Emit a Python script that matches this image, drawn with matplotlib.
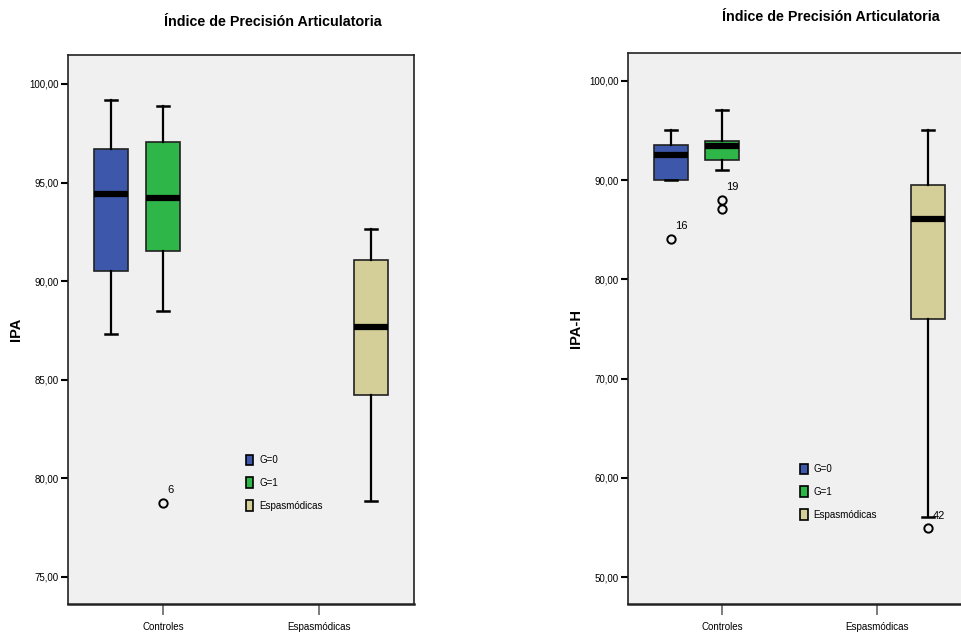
import matplotlib
matplotlib.use("Agg")
import matplotlib.pyplot as plt
from matplotlib.patches import Patch
from matplotlib.ticker import FuncFormatter

plt.rcParams['font.family'] = ['Liberation Sans', 'DejaVu Sans']

# Datos
categorias = ['Controles', 'Espasmódicas']
grupos = ['G=0', 'G=1', 'Espasmódicas']
colores = ['#3d58ab', '#2eb748', '#d4ce98']

# (categoria, grupo) -> [whislo, q1, med, q3, whishi]
ipa_stats = {
    (0, 0): [87.3, 90.5, 94.4, 96.7, 99.2],
    (0, 1): [88.5, 91.55, 94.2, 97.05, 98.9],
    (1, 2): [78.85, 84.25, 87.7, 91.05, 92.65],
}
ipa_outliers = {(0, 1): [78.75]}
ipa_outlier_labels = {(0, 1): '6'}

ipah_stats = {
    (0, 0): [90.0, 90.0, 92.5, 93.55, 95.05],
    (0, 1): [91.0, 92.0, 93.4, 94.0, 97.05],
    (1, 2): [56.0, 76.0, 86.1, 89.5, 95.05],
}
ipah_outliers = {(0, 0): [84.05], (0, 1): [88.0, 87.1], (1, 2): [54.9]}
ipah_outlier_labels = {(0, 0): '16', (0, 1): '19', (1, 2): '42'}

titulo = 'Índice de Precisión Articulatoria'


def dibujar(ax, stats, outliers, etiquetas, ylabel, yticks, ylim, legend_pos):
    ax.set_facecolor('#f0f0f0')
    for (cat, grp), (lo, q1, med, q3, hi) in stats.items():
        pos = cat + (grp - 1) / 3.0
        s = dict(whislo=lo, q1=q1, med=med, q3=q3, whishi=hi,
                 fliers=outliers.get((cat, grp), []))
        ax.bxp([s], positions=[pos], widths=0.218, capwidths=0.08,
               patch_artist=True, showfliers=True,
               boxprops=dict(facecolor=colores[grp], edgecolor='#222222', linewidth=1.2),
               medianprops=dict(color='black', linewidth=4.5, solid_capstyle='butt'),
               whiskerprops=dict(color='black', linewidth=1.6),
               capprops=dict(color='black', linewidth=1.8),
               flierprops=dict(marker='o', markerfacecolor='none',
                               markeredgecolor='black', markersize=6,
                               markeredgewidth=1.4))
        if (cat, grp) in etiquetas:
            y0 = outliers[(cat, grp)][0]
            ax.annotate(etiquetas[(cat, grp)], (pos, y0), xytext=(3, 7),
                        textcoords='offset points', fontsize=8)

    ax.set_xlim(-0.61, 1.61)
    ax.set_ylim(*ylim)
    ax.set_yticks(yticks)
    ax.yaxis.set_major_formatter(FuncFormatter(lambda v, p: f'{v:.2f}'.replace('.', ',')))
    ax.set_xticks(range(len(categorias)))
    ax.set_xticklabels(categorias)
    ax.tick_params(axis='y', direction='out', length=5, width=1.5, labelsize=7, pad=1.5)
    ax.tick_params(axis='x', direction='out', length=8, width=1.2, color='#666666',
                   labelsize=7, pad=5)
    for sp in ax.spines.values():
        sp.set_linewidth(1.2)
        sp.set_color('#222222')
    ax.spines['bottom'].set_linewidth(1.8)
    ax.set_ylabel(ylabel, fontweight='bold', fontsize=10.5)
    ax.yaxis.set_label_coords(-0.13, 0.5)

    handles = [Patch(facecolor=c, edgecolor='black', linewidth=1.2) for c in colores]
    ax.legend(handles, grupos, loc='upper left', bbox_to_anchor=legend_pos,
              frameon=False, handlelength=0.8, handleheight=1.3, handletextpad=0.6,
              labelspacing=1.25, fontsize=7, borderaxespad=0)


fig = plt.figure(figsize=(9.62, 6.37), dpi=100)

ax1 = fig.add_axes([0.0707, 0.0518, 0.3597, 0.8619])
dibujar(ax1, ipa_stats, ipa_outliers, ipa_outlier_labels, 'IPA',
        [75, 80, 85, 90, 95, 100], (73.63, 101.47), (0.502, 0.279))
fig.text(273 / 962, 1 - 22 / 637, titulo, ha='center', va='center',
         fontsize=10.3, fontweight='bold')

ax2 = fig.add_axes([0.6528, 0.0518, 0.3566, 0.865])
dibujar(ax2, ipah_stats, ipah_outliers, ipah_outlier_labels, 'IPA-H',
        [50, 60, 70, 80, 90, 100], (47.28, 102.82), (0.49, 0.262))
fig.text(831 / 962, 1 - 17 / 637, titulo, ha='center', va='center',
         fontsize=10.3, fontweight='bold')

fig.savefig('out.png', dpi=100)
